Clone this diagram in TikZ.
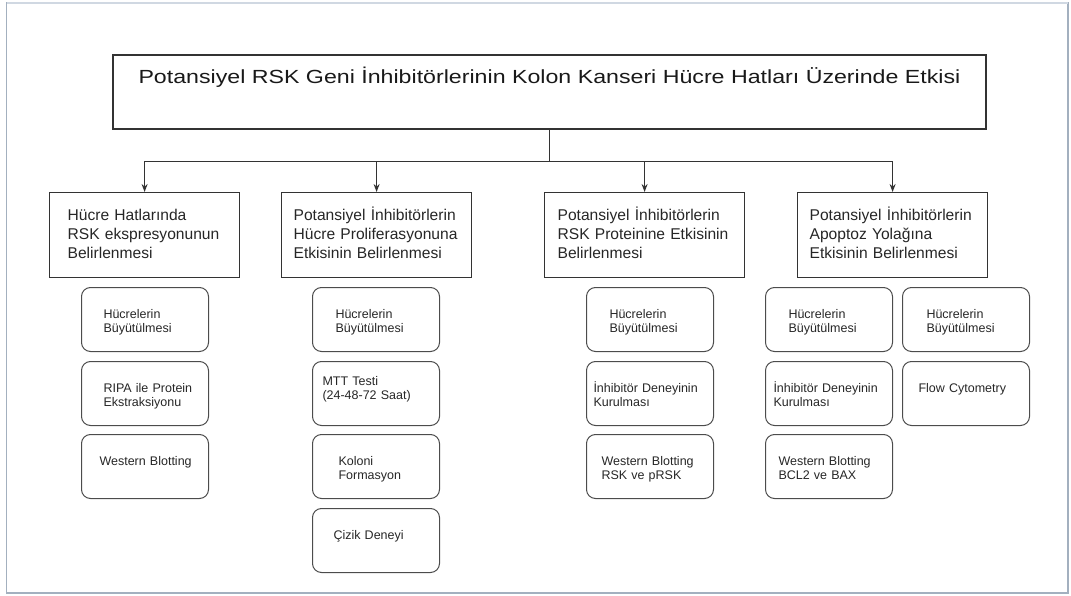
\documentclass[tikz,border=0pt]{standalone}
\usepackage{fontspec}
\setmainfont{Liberation Sans}
\newfontfamily\titlefont[FakeStretch=1.22]{Liberation Sans}
\usetikzlibrary{arrows.meta}

\begin{document}
\begin{tikzpicture}[x=1pt, y=-1pt, >={Stealth[length=8pt, width=6pt]},
    frame/.style={draw={rgb,255:red,163;green,176;blue,191}, line width=1.6pt},
    titlebox/.style={draw=black!80, line width=1.2pt, inner sep=0pt, minimum width=873pt,
        text height=28.5pt, text depth=45.5pt, font=\titlefont\fontsize{19}{23}\selectfont, text=black!90},
    stagebox/.style={draw=black!80, line width=1.2pt, inner sep=0pt, align=left, anchor=north west,
        text height=27.5pt, text depth=57.5pt, font=\fontsize{15.6}{19}\selectfont, text=black!85},
    stepbox/.style={draw=black!70, line width=1pt, rounded corners=9pt, inner sep=0pt, align=left,
        anchor=north west, text width=127pt, font=\fontsize{12.5}{14.5}\selectfont, text=black!85},
    link/.style={->, draw=black!80, line width=1.2pt}]
    \useasboundingbox (0,0) rectangle (1071,596);
    \draw[frame] (6.5,3) rectangle (1068,593);
    \draw[draw={rgb,255:red,208;green,216;blue,226}, line width=1.6pt] (6.5,3) -- (1068,3);

    % name, left x, width, text inset, text
    \newcommand{\stage}[5]{
        \node[stagebox, text width=#3pt] (#1) at (#2,192) {\leftskip=#4pt\relax #5\par};
    }
    % name, left x, top y, text inset, first baseline, text
    \newcommand{\step}[6]{
        \pgfmathsetmacro{\dep}{64-#5}
        \node[stepbox, text height=#5pt, text depth=\dep pt] (#1) at (#2,#3) {\leftskip=#4pt\relax #6\par};
    }

    \node[titlebox] (top) at (549.5,92) {Potansiyel RSK Geni İnhibitörlerinin Kolon Kanseri Hücre Hatları Üzerinde Etkisi\hspace{8pt}};

    \stage{h1}{49}{190}{18}{Hücre Hatlarında\\RSK ekspresyonunun\\Belirlenmesi}
    \stage{h2}{281}{190}{12}{Potansiyel İnhibitörlerin\\Hücre Proliferasyonuna\\Etkisinin Belirlenmesi}
    \stage{h3}{544}{200}{13}{Potansiyel İnhibitörlerin\\RSK Proteinine Etkisinin\\Belirlenmesi}
    \stage{h4}{797}{190}{12}{Potansiyel İnhibitörlerin\\Apoptoz Yolağına\\Etkisinin Belirlenmesi}

    \draw[link] (top.south) -- ++(0,32) -| (h1.north);
    \draw[link] (top.south) -- ++(0,32) -| (h2.north);
    \draw[link] (top.south) -- ++(0,32) -| (h3.north);
    \draw[link] (top.south) -- ++(0,32) -| (h4.north);

    \step{s11}{81}{287}{22}{30.5}{Hücrelerin\\Büyütülmesi}
    \step{s12}{81}{361}{22}{30.5}{RIPA ile Protein\\Ekstraksiyonu}
    \step{s13}{81}{434}{18}{31}{Western Blotting}

    \step{s21}{312}{287}{23}{30.5}{Hücrelerin\\Büyütülmesi}
    \step{s22}{312}{361}{10}{23.5}{MTT Testi\\(24-48-72 Saat)}
    \step{s23}{312}{434}{26}{30.5}{Koloni\\Formasyon}
    \step{s24}{312}{508}{21}{30.5}{Çizik Deneyi}

    \step{s31}{586}{287}{23}{30.5}{Hücrelerin\\Büyütülmesi}
    \step{s32}{586}{361}{7}{30.5}{İnhibitör Deneyinin\\Kurulması}
    \step{s33}{586}{434}{15}{30.5}{Western Blotting\\RSK ve pRSK}

    \step{s41}{765}{287}{23}{30.5}{Hücrelerin\\Büyütülmesi}
    \step{s42}{765}{361}{8}{30.5}{İnhibitör Deneyinin\\Kurulması}
    \step{s43}{765}{434}{13}{30.5}{Western Blotting\\BCL2 ve BAX}

    \step{s51}{902}{287}{24}{30.5}{Hücrelerin\\Büyütülmesi}
    \step{s52}{902}{361}{16}{30.5}{Flow Cytometry}
\end{tikzpicture}
\end{document}
